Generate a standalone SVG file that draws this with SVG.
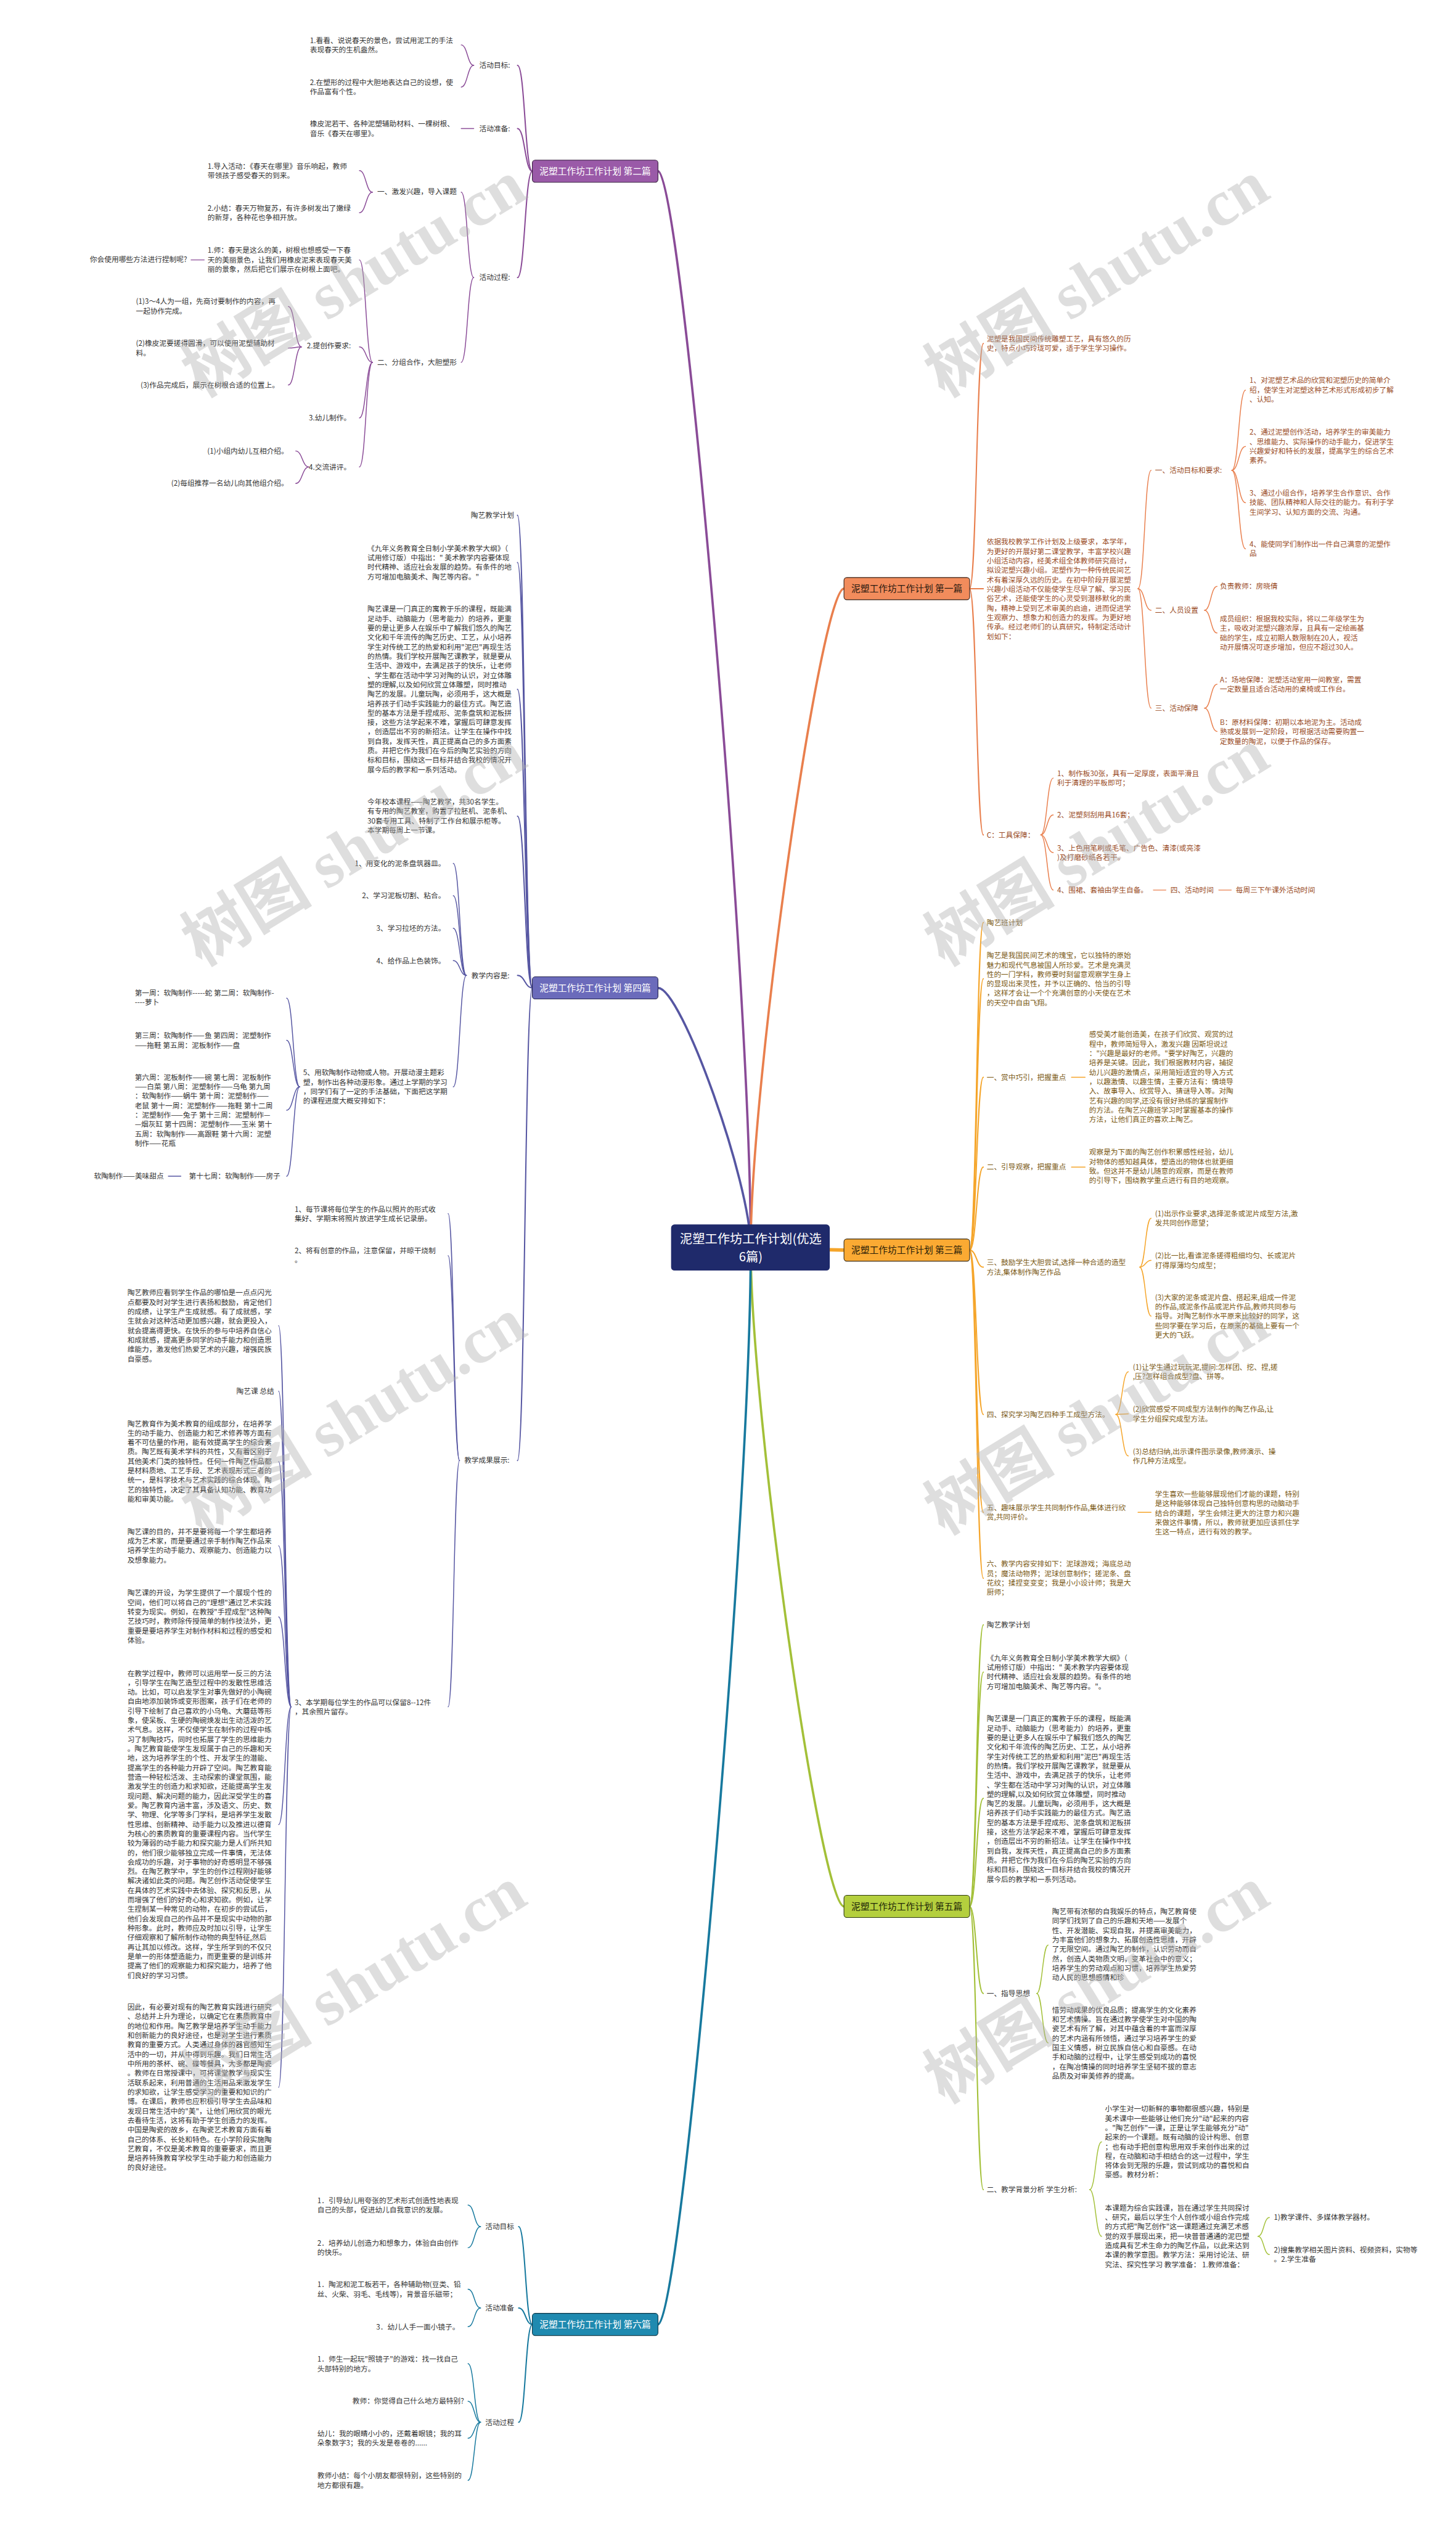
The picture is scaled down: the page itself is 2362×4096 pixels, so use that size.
<svg xmlns="http://www.w3.org/2000/svg" width="2362" height="4096" viewBox="0 0 2362 4096">
<style>
.t{font-family:"Noto Sans CJK SC","Noto Sans",sans-serif;font-size:12.7px;fill:#333}
.e{text-anchor:end}
.o{fill:#9a4b25}
.y{fill:#7a5812}
.bt{font-family:"Noto Sans CJK SC","Noto Sans",sans-serif;font-size:16px;text-anchor:middle}
.ln{fill:none;stroke-linecap:round}
.w1{stroke-width:2.2}
.w2{stroke-width:1.6}
.wm{font-family:"Liberation Serif","Noto Sans CJK SC",serif;font-weight:bold;font-size:115px;fill:#b0b0b0;fill-opacity:0.42}
.c2{stroke:#8a4b97}.c4{stroke:#5656a2}.c6{stroke:#17799e}.c1{stroke:#e97f4d}.c3{stroke:#f5a52a}.c5{stroke:#a3c038}
</style>
<rect x="0" y="0" width="2362" height="4096" fill="#ffffff"/>
<g transform="scale(0.9226)">
<g id="connectors">
<path class="ln c2" stroke-width="4" d="M1320 2193C1320 1720 1198 301 1157 301"/>
<path class="ln c4" stroke-width="4" d="M1320 2193C1320 2079 1198 1737 1157 1737"/>
<path class="ln c1" stroke-width="4" d="M1320 2193C1320 1903 1443 1035 1484 1035"/>
<path class="ln c5" stroke-width="4" d="M1320 2193C1320 2483 1443 3352 1484 3352"/>
<path class="ln c6" stroke-width="4" d="M1320 2193C1320 2667 1198 4087 1157 4087"/>
<path class="ln c3" stroke-width="6" d="M1400 2196L1484 2198"/>
<g class="ln c2 w1">
<path d="M936 301C923 301 923 115 910 115"/><path d="M936 301C923 301 923 226 910 226"/><path d="M936 301C923 301 923 488 910 488"/>
</g>
<g class="ln c2 w2">
<path d="M833 115C822 115 822 79 811 79"/><path d="M833 115C822 115 822 153 811 153"/>
<path d="M833 226H811"/>
<path d="M833 488C822 488 822 338 811 338"/><path d="M833 488C822 488 822 637 811 637"/>
<path d="M655 338C643.5 338 643.5 300 632 300"/><path d="M655 338C643.5 338 643.5 374 632 374"/>
<path d="M655 637C643.5 637 643.5 457 632 457"/><path d="M655 637C643.5 637 643.5 610 632 610"/><path d="M655 637C643.5 637 643.5 735 632 735"/><path d="M655 637C643.5 637 643.5 821 632 821"/>
<path d="M359 457H336"/>
<path d="M530 610C518.5 610 518.5 539 507 539"/><path d="M530 610C518.5 610 518.5 612 507 612"/><path d="M530 610C518.5 610 518.5 677 507 677"/>
<path d="M543 821C531.5 821 531.5 793 520 793"/><path d="M543 821C531.5 821 531.5 850 520 850"/>
</g>
<g class="ln c4 w1">
<path d="M936 1737C923 1737 923 906 910 906"/><path d="M936 1737C923 1737 923 989 910 989"/><path d="M936 1737C923 1737 923 1212 910 1212"/><path d="M936 1737C923 1737 923 1435 910 1435"/><path d="M936 1737C923 1737 923 1715 910 1715"/><path d="M936 1737C923 1737 923 2568 910 2568"/>
</g>
<g class="ln c4 w2">
<path d="M820 1715C808.5 1715 808.5 1518 797 1518"/><path d="M820 1715C808.5 1715 808.5 1575 797 1575"/><path d="M820 1715C808.5 1715 808.5 1632 797 1632"/><path d="M820 1715C808.5 1715 808.5 1689 797 1689"/><path d="M820 1715C808.5 1715 808.5 1911 797 1911"/>
<path d="M527 1911C515.5 1911 515.5 1755 504 1755"/><path d="M527 1911C515.5 1911 515.5 1829 504 1829"/><path d="M527 1911C515.5 1911 515.5 1952 504 1952"/><path d="M527 1911C515.5 1911 515.5 2068 504 2068"/>
<path d="M318 2068H296"/>
<path d="M808 2568C798 2568 798 2134 788 2134"/><path d="M808 2568C798 2568 798 2208 788 2208"/><path d="M808 2568C798 2568 798 3001 788 3001"/>
<path d="M512 3001C501 3001 501 2331 490 2331"/><path d="M512 3001C501 3001 501 2446 490 2446"/><path d="M512 3001C501 3001 501 2570 490 2570"/><path d="M512 3001C501 3001 501 2718 490 2718"/><path d="M512 3001C501 3001 501 2843 490 2843"/><path d="M512 3001C501 3001 501 3208 490 3208"/><path d="M512 3001C501 3001 501 3670 490 3670"/>
</g>
<g class="ln c6 w1">
<path d="M936 4087C924 4087 924 3915 912 3915"/><path d="M936 4087C924 4087 924 4058 912 4058"/><path d="M936 4087C924 4087 924 4259 912 4259"/>
</g>
<g class="ln c6 w2">
<path d="M845 3915C834 3915 834 3877 823 3877"/><path d="M845 3915C834 3915 834 3952 823 3952"/>
<path d="M845 4058C834 4058 834 4025 823 4025"/><path d="M845 4058C834 4058 834 4091 823 4091"/>
<path d="M845 4259C834 4259 834 4156 823 4156"/><path d="M845 4259C834 4259 834 4222 823 4222"/><path d="M845 4259C834 4259 834 4287 823 4287"/><path d="M845 4259C834 4259 834 4361 823 4361"/>
</g>
<g class="ln c1 w1">
<path d="M1705 1035C1717 1035 1717 604 1729 604"/><path d="M1705 1035H1729"/><path d="M1705 1035C1717 1035 1717 1468 1729 1468"/>
</g>
<g class="ln c1 w2">
<path d="M2001 1035C2012.5 1035 2012.5 827 2024 827"/><path d="M2001 1035C2012.5 1035 2012.5 1073 2024 1073"/><path d="M2001 1035C2012.5 1035 2012.5 1245 2024 1245"/>
<path d="M2166 827C2178 827 2178 686 2190 686"/><path d="M2166 827C2178 827 2178 785 2190 785"/><path d="M2166 827C2178 827 2178 884 2190 884"/><path d="M2166 827C2178 827 2178 965 2190 965"/>
<path d="M2118 1073C2129 1073 2129 1031 2140 1031"/><path d="M2118 1073C2129 1073 2129 1113 2140 1113"/>
<path d="M2118 1245C2129 1245 2129 1203 2140 1203"/><path d="M2118 1245C2129 1245 2129 1286 2140 1286"/>
<path d="M1830 1468C1841 1468 1841 1368 1852 1368"/><path d="M1830 1468C1841 1468 1841 1433 1852 1433"/><path d="M1830 1468C1841 1468 1841 1499 1852 1499"/><path d="M1830 1468C1841 1468 1841 1565 1852 1565"/>
<path d="M2028 1565H2050"/><path d="M2143 1565H2165"/>
</g>
<g class="ln c3 w1">
<path d="M1705 2198C1717 2198 1717 1622 1729 1622"/><path d="M1705 2198C1717 2198 1717 1721 1729 1721"/><path d="M1705 2198C1717 2198 1717 1894 1729 1894"/><path d="M1705 2198C1717 2198 1717 2052 1729 2052"/><path d="M1705 2198C1717 2198 1717 2228 1729 2228"/><path d="M1705 2198C1717 2198 1717 2487 1729 2487"/><path d="M1705 2198C1717 2198 1717 2659 1729 2659"/><path d="M1705 2198C1717 2198 1717 2775 1729 2775"/>
</g>
<g class="ln c3 w2">
<path d="M1884 1894H1908"/><path d="M1884 2052H1908"/>
<path d="M2004 2228C2014 2228 2014 2142 2024 2142"/><path d="M2004 2228C2014 2228 2014 2216 2024 2216"/><path d="M2004 2228C2014 2228 2014 2314 2024 2314"/>
<path d="M1962 2487C1973 2487 1973 2412 1984 2412"/><path d="M1962 2487C1973 2487 1973 2486 1984 2486"/><path d="M1962 2487C1973 2487 1973 2560 1984 2560"/>
<path d="M2001 2659H2024"/>
</g>
<g class="ln c5 w1">
<path d="M1705 3352C1717 3352 1717 2857 1729 2857"/><path d="M1705 3352C1717 3352 1717 2940 1729 2940"/><path d="M1705 3352C1717 3352 1717 3162 1729 3162"/><path d="M1705 3352C1717 3352 1717 3505 1729 3505"/><path d="M1705 3352C1717 3352 1717 3850 1729 3850"/>
</g>
<g class="ln c5 w2">
<path d="M1823 3505C1833 3505 1833 3420 1843 3420"/><path d="M1823 3505C1833 3505 1833 3592 1843 3592"/>
<path d="M1916 3850C1926.5 3850 1926.5 3766 1937 3766"/><path d="M1916 3850C1926.5 3850 1926.5 3932 1937 3932"/>
<path d="M2212 3932C2222 3932 2222 3899 2232 3899"/><path d="M2212 3932C2222 3932 2222 3964 2232 3964"/>
</g>
</g>

<g id="center">
<rect x="1180" y="2153" width="279" height="81" rx="6" fill="#1f2a6b"/>
<text class="bt" x="1320" y="2186" style="font-size:22px;fill:#ffffff">泥塑工作坊工作计划(优选<tspan x="1320" dy="32">6篇)</tspan></text>
</g>

<g id="branch2">
<rect x="936" y="281.5" width="221" height="39" rx="5" fill="#9a5aa8" stroke="#3a2340" stroke-width="1.2"/>
<text class="bt" x="1046.5" y="307" fill="#ffffff">泥塑工作坊工作计划 第二篇</text>
</g>
<g id="branch4">
<rect x="936" y="1717.5" width="221" height="39" rx="5" fill="#6b6bbb" stroke="#262650" stroke-width="1.2"/>
<text class="bt" x="1046.5" y="1743" fill="#ffffff">泥塑工作坊工作计划 第四篇</text>
</g>
<g id="branch6">
<rect x="936" y="4067.5" width="221" height="39" rx="5" fill="#1f8ab0" stroke="#0f3a4a" stroke-width="1.2"/>
<text class="bt" x="1046.5" y="4093" fill="#ffffff">泥塑工作坊工作计划 第六篇</text>
</g>
<g id="branch1">
<rect x="1484" y="1015.5" width="221" height="39" rx="5" fill="#f28c5c" stroke="#3a2015" stroke-width="1.2"/>
<text class="bt" x="1594.5" y="1041" fill="#2a1a10">泥塑工作坊工作计划 第一篇</text>
</g>
<g id="branch3">
<rect x="1484" y="2178.5" width="221" height="39" rx="5" fill="#fbaa33" stroke="#3a2a10" stroke-width="1.2"/>
<text class="bt" x="1594.5" y="2204" fill="#2a1e08">泥塑工作坊工作计划 第三篇</text>
</g>
<g id="branch5">
<rect x="1484" y="3332.5" width="221" height="39" rx="5" fill="#b4cf3e" stroke="#2e3a10" stroke-width="1.2"/>
<text class="bt" x="1594.5" y="3358" fill="#1e2608">泥塑工作坊工作计划 第五篇</text>
</g>

<g id="nodes-b2">
<g id="b2-n1"><text class="t e" x="897" y="119.6">活动目标:</text></g>
<g id="b2-n2"><text class="t" x="545" y="75.6">1.看看、说说春天的景色，尝试用泥工的手法<tspan x="545" dy="16.6">表现春天的生机盎然。</tspan></text></g>
<g id="b2-n3"><text class="t" x="545" y="149.6">2.在塑形的过程中大胆地表达自己的设想，使<tspan x="545" dy="16.6">作品富有个性。</tspan></text></g>
<g id="b2-n4"><text class="t e" x="897" y="230.6">活动准备:</text></g>
<g id="b2-n5"><text class="t" x="545" y="222.6">橡皮泥若干、各种泥塑辅助材料、一棵树根、<tspan x="545" dy="16.6">音乐《春天在哪里》。</tspan></text></g>
<g id="b2-n6"><text class="t e" x="897" y="492.6">活动过程:</text></g>
<g id="b2-n7"><text class="t e" x="803" y="341.6">一、激发兴趣，导入课题</text></g>
<g id="b2-n8"><text class="t" x="365" y="296.6">1.导入活动：《春天在哪里》音乐响起，教师<tspan x="365" dy="16.6">带领孩子感受春天的到来。</tspan></text></g>
<g id="b2-n9"><text class="t" x="365" y="370.6">2.小结：春天万物复苏，有许多树发出了嫩绿<tspan x="365" dy="16.6">的新芽，各种花也争相开放。</tspan></text></g>
<g id="b2-n10"><text class="t e" x="803" y="641.6">二、分组合作，大胆塑形</text></g>
<g id="b2-n11"><text class="t" x="365" y="444.6">1.师：春天是这么的美，树根也想感受一下春<tspan x="365" dy="16.6">天的美丽景色，让我们用橡皮泥来表现春天美</tspan><tspan x="365" dy="16.6">丽的景象，然后把它们展示在树根上面吧。</tspan></text></g>
<g id="b2-n12"><text class="t e" x="329" y="460.6">你会使用哪些方法进行捏制呢?</text></g>
<g id="b2-n13"><text class="t e" x="617" y="612.6">2.提创作要求:</text></g>
<g id="b2-n14"><text class="t" x="239" y="534.6">(1)3～4人为一组，先商讨要制作的内容，再<tspan x="239" dy="16.6">一起协作完成。</tspan></text></g>
<g id="b2-n15"><text class="t" x="239" y="608.6">(2)橡皮泥要搓得圆滑，可以使用泥塑辅助材<tspan x="239" dy="16.6">料。</tspan></text></g>
<g id="b2-n16"><text class="t e" x="491" y="681.6">(3)作品完成后，展示在树根合适的位置上。</text></g>
<g id="b2-n17"><text class="t e" x="617" y="739.6">3.幼儿制作。</text></g>
<g id="b2-n18"><text class="t e" x="617" y="825.6">4.交流讲评。</text></g>
<g id="b2-n19"><text class="t e" x="507" y="797.6">(1)小组内幼儿互相介绍。</text></g>
<g id="b2-n20"><text class="t e" x="507" y="854.6">(2)每组推荐一名幼儿向其他组介绍。</text></g>
</g>

<g id="nodes-b4">
<g id="b4-n1"><text class="t e" x="904" y="910.6">陶艺教学计划</text></g>
<g id="b4-n2"><text class="t" x="646" y="968.6">《九年义务教育全日制小学美术教学大纲》（<tspan x="646" dy="16.6">试用修订版）中指出：" 美术教学内容要体现</tspan><tspan x="646" dy="16.6">时代精神、适应社会发展的趋势。有条件的地</tspan><tspan x="646" dy="16.6">方可增加电脑美术、陶艺等内容。"</tspan></text></g>
<g id="b4-n3"><text class="t" x="646" y="1075.6">陶艺课是一门真正的寓教于乐的课程，既能满<tspan x="646" dy="16.6">足动手、动脑能力（思考能力）的培养，更重</tspan><tspan x="646" dy="16.6">要的是让更多人在娱乐中了解我们悠久的陶艺</tspan><tspan x="646" dy="16.6">文化和千年流传的陶艺历史、工艺，从小培养</tspan><tspan x="646" dy="16.6">学生对传统工艺的热爱和利用"泥巴"再现生活</tspan><tspan x="646" dy="16.6">的热情。我们学校开展陶艺课教学，就是要从</tspan><tspan x="646" dy="16.6">生活中、游戏中，去满足孩子的快乐，让老师</tspan><tspan x="646" dy="16.6">、学生都在活动中学习对陶的认识，对立体雕</tspan><tspan x="646" dy="16.6">塑的理解,以及如何欣赏立体雕塑，同时推动</tspan><tspan x="646" dy="16.6">陶艺的发展。儿童玩陶，必须用手，这大概是</tspan><tspan x="646" dy="16.6">培养孩子们动手实践能力的最佳方式。陶艺造</tspan><tspan x="646" dy="16.6">型的基本方法是手捏成形、泥条盘筑和泥板拼</tspan><tspan x="646" dy="16.6">接，这些方法学起来不难，掌握后可肆意发挥</tspan><tspan x="646" dy="16.6">，创造层出不穷的新招法。让学生在操作中找</tspan><tspan x="646" dy="16.6">到自我，发挥天性，真正提高自己的多方面素</tspan><tspan x="646" dy="16.6">质。并把它作为我们在今后的陶艺实验的方向</tspan><tspan x="646" dy="16.6">标和目标，围绕这一目标并结合我校的情况开</tspan><tspan x="646" dy="16.6">展今后的教学和一系列活动。</tspan></text></g>
<g id="b4-n4"><text class="t" x="646" y="1414.6">今年校本课程——陶艺教学，共30名学生。<tspan x="646" dy="16.6">有专用的陶艺教室，购置了拉胚机、泥条机、</tspan><tspan x="646" dy="16.6">30套专用工具、特制了工作台和展示柜等。</tspan><tspan x="646" dy="16.6">本学期每周上一节课。</tspan></text></g>
<g id="b4-n5"><text class="t e" x="896" y="1719.6">教学内容是:</text></g>
<g id="b4-n6"><text class="t e" x="783" y="1522.6">1、用变化的泥条盘筑器皿。</text></g>
<g id="b4-n7"><text class="t e" x="783" y="1579.6">2、学习泥板切割、粘合。</text></g>
<g id="b4-n8"><text class="t e" x="783" y="1636.6">3、学习拉坯的方法。</text></g>
<g id="b4-n9"><text class="t e" x="783" y="1693.6">4、给作品上色装饰。</text></g>
<g id="b4-n10"><text class="t" x="533" y="1890.6">5、用软陶制作动物或人物。开展动漫主题彩<tspan x="533" dy="16.6">塑，制作出各种动漫形象。通过上学期的学习</tspan><tspan x="533" dy="16.6">，同学们有了一定的手法基础，下面把这学期</tspan><tspan x="533" dy="16.6">的课程进度大概安排如下：</tspan></text></g>
<g id="b4-n11"><text class="t" x="237" y="1750.6">第一周：软陶制作-----蛇 第二周：软陶制作-<tspan x="237" dy="16.6">----萝卜</tspan></text></g>
<g id="b4-n12"><text class="t" x="237" y="1825.6">第三周：软陶制作——鱼 第四周：泥塑制作<tspan x="237" dy="16.6">——拖鞋 第五周：泥板制作——盘</tspan></text></g>
<g id="b4-n13"><text class="t" x="237" y="1898.6">第六周：泥板制作——碗 第七周：泥板制作<tspan x="237" dy="16.6">——白菜 第八周：泥塑制作——乌龟 第九周</tspan><tspan x="237" dy="16.6">：软陶制作——蜗牛 第十周：泥塑制作——</tspan><tspan x="237" dy="16.6">老鼠 第十一周：泥塑制作——拖鞋 第十二周</tspan><tspan x="237" dy="16.6">：泥塑制作——兔子 第十三周：泥塑制作—</tspan><tspan x="237" dy="16.6">—烟灰缸 第十四周：泥塑制作——玉米 第十</tspan><tspan x="237" dy="16.6">五周：软陶制作——高跟鞋 第十六周：泥塑</tspan><tspan x="237" dy="16.6">制作——花瓶</tspan></text></g>
<g id="b4-n14"><text class="t e" x="493" y="2072.6">第十七周：软陶制作——房子</text></g>
<g id="b4-n15"><text class="t e" x="288" y="2072.6">软陶制作——美味甜点</text></g>
<g id="b4-n16"><text class="t e" x="896" y="2572.6">教学成果展示:</text></g>
<g id="b4-n17"><text class="t" x="518" y="2130.6">1、每节课将每位学生的作品以照片的形式收<tspan x="518" dy="16.6">集好、学期末将照片放进学生成长记录册。</tspan></text></g>
<g id="b4-n18"><text class="t" x="518" y="2203.6">2、将有创意的作品，注意保留，并晾干烧制<tspan x="518" dy="16.6">。</tspan></text></g>
<g id="b4-n19"><text class="t" x="518" y="2997.6">3、本学期每位学生的作品可以保留8--12件<tspan x="518" dy="16.6">，其余照片留存。</tspan></text></g>
<g id="b4-n20"><text class="t" x="224" y="2277.6">陶艺教师应看到学生作品的哪怕是一点点闪光<tspan x="224" dy="16.6">点都要及时对学生进行表扬和鼓励，肯定他们</tspan><tspan x="224" dy="16.6">的成绩，让学生产生成就感。有了成就感，学</tspan><tspan x="224" dy="16.6">生就会对这种活动更加感兴趣，就会更投入，</tspan><tspan x="224" dy="16.6">就会提高得更快。在快乐的参与中培养自信心</tspan><tspan x="224" dy="16.6">和成就感，提高更多同学的动手能力和创造思</tspan><tspan x="224" dy="16.6">维能力，激发他们热爱艺术的兴趣，增强民族</tspan><tspan x="224" dy="16.6">自豪感。</tspan></text></g>
<g id="b4-n21"><text class="t e" x="482" y="2450.6">陶艺课 总结</text></g>
<g id="b4-n22"><text class="t" x="224" y="2507.6">陶艺教育作为美术教育的组成部分，在培养学<tspan x="224" dy="16.6">生的动手能力、创造能力和艺术修养等方面有</tspan><tspan x="224" dy="16.6">着不可估量的作用，能有效提高学生的综合素</tspan><tspan x="224" dy="16.6">质。陶艺既有美术学科的共性，又有着区别于</tspan><tspan x="224" dy="16.6">其他美术门类的独特性。任何一件陶艺作品都</tspan><tspan x="224" dy="16.6">是材料质地、工艺手段、艺术表现形式三者的</tspan><tspan x="224" dy="16.6">统一，是科学技术与艺术实践的综合体现。陶</tspan><tspan x="224" dy="16.6">艺的独特性，决定了其具备认知功能、教育功</tspan><tspan x="224" dy="16.6">能和审美功能。</tspan></text></g>
<g id="b4-n23"><text class="t" x="224" y="2697.6">陶艺课的目的，并不是要将每一个学生都培养<tspan x="224" dy="16.6">成为艺术家，而是要通过亲手制作陶艺作品来</tspan><tspan x="224" dy="16.6">培养学生的动手能力、观察能力、创造能力以</tspan><tspan x="224" dy="16.6">及想象能力。</tspan></text></g>
<g id="b4-n24"><text class="t" x="224" y="2805.6">陶艺课的开设，为学生提供了一个展现个性的<tspan x="224" dy="16.6">空间，他们可以将自己的"理想"通过艺术实践</tspan><tspan x="224" dy="16.6">转变为现实。例如，在教授"手捏成型"这种陶</tspan><tspan x="224" dy="16.6">艺技巧时，教师除传授简单的制作技法外，更</tspan><tspan x="224" dy="16.6">重要是要培养学生对制作材料和过程的感受和</tspan><tspan x="224" dy="16.6">体验。</tspan></text></g>
<g id="b4-n25"><text class="t" x="224" y="2946.6">在教学过程中，教师可以运用举一反三的方法<tspan x="224" dy="16.6">，引导学生在陶艺造型过程中的发散性思维活</tspan><tspan x="224" dy="16.6">动。比如，可以启发学生对事先做好的小陶碗</tspan><tspan x="224" dy="16.6">自由地添加装饰或变形图案，孩子们在老师的</tspan><tspan x="224" dy="16.6">引导下绘制了自己喜欢的小乌龟、大蘑菇等形</tspan><tspan x="224" dy="16.6">象，使呆板、生硬的陶碗焕发出生动活泼的艺</tspan><tspan x="224" dy="16.6">术气息。这样，不仅使学生在制作的过程中练</tspan><tspan x="224" dy="16.6">习了制陶技巧，同时也拓展了学生的思维能力</tspan><tspan x="224" dy="16.6">。陶艺教育能使学生发现属于自己的乐趣和天</tspan><tspan x="224" dy="16.6">地，这为培养学生的个性、开发学生的潜能、</tspan><tspan x="224" dy="16.6">提高学生的各种能力开辟了空间。陶艺教育能</tspan><tspan x="224" dy="16.6">营造一种轻松活泼、主动探索的课堂氛围，能</tspan><tspan x="224" dy="16.6">激发学生的创造力和求知欲，还能提高学生发</tspan><tspan x="224" dy="16.6">现问题、解决问题的能力，因此深受学生的喜</tspan><tspan x="224" dy="16.6">爱。陶艺教育内涵丰富，涉及语文、历史、数</tspan><tspan x="224" dy="16.6">学、物理、化学等多门学科，是培养学生发散</tspan><tspan x="224" dy="16.6">性思维、创新精神、动手能力以及推进以德育</tspan><tspan x="224" dy="16.6">为核心的素质教育的重要课程内容。当代学生</tspan><tspan x="224" dy="16.6">较为薄弱的动手能力和探究能力是人们所共知</tspan><tspan x="224" dy="16.6">的，他们很少能够独立完成一件事情，无法体</tspan><tspan x="224" dy="16.6">会成功的乐趣，对于事物的好奇感明显不够强</tspan><tspan x="224" dy="16.6">烈。在陶艺教学中，学生的创作过程刚好能够</tspan><tspan x="224" dy="16.6">解决诸如此类的问题。陶艺创作活动促使学生</tspan><tspan x="224" dy="16.6">在具体的艺术实践中去体验、探究和反思，从</tspan><tspan x="224" dy="16.6">而增强了他们的好奇心和求知欲。例如，让学</tspan><tspan x="224" dy="16.6">生捏制某一种常见的动物，在初步的尝试后，</tspan><tspan x="224" dy="16.6">他们会发现自己的作品并不是现实中动物的那</tspan><tspan x="224" dy="16.6">种形象。此时，教师应及时加以引导，让学生</tspan><tspan x="224" dy="16.6">仔细观察和了解所制作动物的典型特征,然后</tspan><tspan x="224" dy="16.6">再让其加以修改。这样，学生所学到的不仅只</tspan><tspan x="224" dy="16.6">是单一的形体塑造能力，而更重要的是训练并</tspan><tspan x="224" dy="16.6">提高了他们的观察能力和探究能力，培养了他</tspan><tspan x="224" dy="16.6">们良好的学习习惯。</tspan></text></g>
<g id="b4-n26"><text class="t" x="224" y="3533.6">因此，有必要对现有的陶艺教育实践进行研究<tspan x="224" dy="16.6">、总结并上升为理论，以确定它在素质教育中</tspan><tspan x="224" dy="16.6">的地位和作用。陶艺教学是培养学生动手能力</tspan><tspan x="224" dy="16.6">和创新能力的良好途径，也是对学生进行素质</tspan><tspan x="224" dy="16.6">教育的重要方式。人类通过身体的器官感知生</tspan><tspan x="224" dy="16.6">活中的一切，并从中得到乐趣。我们日常生活</tspan><tspan x="224" dy="16.6">中所用的茶杯、碗、碟等餐具，大多都是陶瓷</tspan><tspan x="224" dy="16.6">。教师在日常授课中，可将课堂教学与现实生</tspan><tspan x="224" dy="16.6">活联系起来，利用普通的生活用品来激发学生</tspan><tspan x="224" dy="16.6">的求知欲，让学生感受学习的重要和知识的广</tspan><tspan x="224" dy="16.6">博。在课后，教师也应积极引导学生去品味和</tspan><tspan x="224" dy="16.6">发现日常生活中的"美"，让他们用欣赏的眼光</tspan><tspan x="224" dy="16.6">去看待生活，这将有助于学生创造力的发挥。</tspan><tspan x="224" dy="16.6">中国是陶瓷的故乡，在陶瓷艺术教育方面有着</tspan><tspan x="224" dy="16.6">自己的体系、长处和特色。在小学阶段实施陶</tspan><tspan x="224" dy="16.6">艺教育，不仅是美术教育的重要要求，而且更</tspan><tspan x="224" dy="16.6">是培养特殊教育学校学生动手能力和创造能力</tspan><tspan x="224" dy="16.6">的良好途径。</tspan></text></g>
</g>

<g id="nodes-b6">
<g id="b6-n1"><text class="t e" x="904" y="3919.6">活动目标</text></g>
<g id="b6-n2"><text class="t" x="558" y="3873.6">1．引导幼儿用夸张的艺术形式创造性地表现<tspan x="558" dy="16.6">自己的头部，促进幼儿自我意识的发展。</tspan></text></g>
<g id="b6-n3"><text class="t" x="558" y="3948.6">2．培养幼儿创造力和想象力，体验自由创作<tspan x="558" dy="16.6">的快乐。</tspan></text></g>
<g id="b6-n4"><text class="t e" x="904" y="4062.6">活动准备</text></g>
<g id="b6-n5"><text class="t" x="558" y="4021.6">1．陶泥和泥工板若干，各种辅助物(豆类、铅<tspan x="558" dy="16.6">丝、火柴、羽毛、毛线等)，背景音乐磁带；</tspan></text></g>
<g id="b6-n6"><text class="t e" x="808" y="4095.6">3．幼儿人手一面小镜子。</text></g>
<g id="b6-n7"><text class="t e" x="904" y="4263.6">活动过程</text></g>
<g id="b6-n8"><text class="t" x="558" y="4152.6">1．师生一起玩"照镜子"的游戏：找一找自己<tspan x="558" dy="16.6">头部特别的地方。</tspan></text></g>
<g id="b6-n9"><text class="t e" x="816" y="4226.6">教师：你觉得自己什么地方最特别?</text></g>
<g id="b6-n10"><text class="t" x="558" y="4283.6">幼儿：我的眼睛小小的，还戴着眼镜；我的耳<tspan x="558" dy="16.6">朵象数字3；我的头发是卷卷的......</tspan></text></g>
<g id="b6-n11"><text class="t" x="558" y="4357.6">教师小结：每个小朋友都很特别，这些特别的<tspan x="558" dy="16.6">地方都很有趣。</tspan></text></g>
</g>

<g id="nodes-b1">
<g id="b1-n1"><text class="t o" x="1735" y="600.6">泥塑是我国民间传统雕塑工艺，具有悠久的历<tspan x="1735" dy="16.6">史，特点小巧玲珑可爱，适于学生学习操作。</tspan></text></g>
<g id="b1-n2"><text class="t o" x="1735" y="957.6">依据我校教学工作计划及上级要求，本学年，<tspan x="1735" dy="16.6">为更好的开展好第二课堂教学，丰富学校兴趣</tspan><tspan x="1735" dy="16.6">小组活动内容，经美术组全体教师研究商讨，</tspan><tspan x="1735" dy="16.6">拟设泥塑兴趣小组。泥塑作为一种传统民间艺</tspan><tspan x="1735" dy="16.6">术有着深厚久远的历史。在初中阶段开展泥塑</tspan><tspan x="1735" dy="16.6">兴趣小组活动不仅能使学生尽早了解、学习民</tspan><tspan x="1735" dy="16.6">俗艺术，还能使学生的心灵受到潜移默化的熏</tspan><tspan x="1735" dy="16.6">陶，精神上受到艺术审美的启迪，进而促进学</tspan><tspan x="1735" dy="16.6">生观察力、想象力和创造力的发挥。为更好地</tspan><tspan x="1735" dy="16.6">传承。经过老师们的认真研究，特制定活动计</tspan><tspan x="1735" dy="16.6">划如下：</tspan></text></g>
<g id="b1-n3"><text class="t o" x="2031" y="831.6">一、活动目标和要求:</text></g>
<g id="b1-n4"><text class="t o" x="2197" y="673.6">1、对泥塑艺术品的欣赏和泥塑历史的简单介<tspan x="2197" dy="16.6">绍，使学生对泥塑这种艺术形式形成初步了解</tspan><tspan x="2197" dy="16.6">、认知。</tspan></text></g>
<g id="b1-n5"><text class="t o" x="2197" y="764.6">2、通过泥塑创作活动，培养学生的审美能力<tspan x="2197" dy="16.6">、思维能力、实际操作的动手能力，促进学生</tspan><tspan x="2197" dy="16.6">兴趣爱好和特长的发展，提高学生的综合艺术</tspan><tspan x="2197" dy="16.6">素养。</tspan></text></g>
<g id="b1-n6"><text class="t o" x="2197" y="871.6">3、通过小组合作，培养学生合作意识、合作<tspan x="2197" dy="16.6">技能、团队精神和人际交往的能力。有利于学</tspan><tspan x="2197" dy="16.6">生间学习、认知方面的交流、沟通。</tspan></text></g>
<g id="b1-n7"><text class="t o" x="2197" y="961.6">4、能使同学们制作出一件自己满意的泥塑作<tspan x="2197" dy="16.6">品</tspan></text></g>
<g id="b1-n8"><text class="t o" x="2031" y="1077.6">二、人员设置</text></g>
<g id="b1-n9"><text class="t o" x="2145" y="1035.6">负责教师：房晓倩</text></g>
<g id="b1-n10"><text class="t o" x="2145" y="1092.6">成员组织：根据我校实际，将以二年级学生为<tspan x="2145" dy="16.6">主，吸收对泥塑兴趣浓厚，且具有一定绘画基</tspan><tspan x="2145" dy="16.6">础的学生，成立初期人数限制在20人，视活</tspan><tspan x="2145" dy="16.6">动开展情况可逐步增加，但应不超过30人。</tspan></text></g>
<g id="b1-n11"><text class="t o" x="2031" y="1249.6">三、活动保障</text></g>
<g id="b1-n12"><text class="t o" x="2145" y="1199.6">A：场地保障：泥塑活动室用一间教室，需置<tspan x="2145" dy="16.6">一定数量且适合活动用的桌椅或工作台。</tspan></text></g>
<g id="b1-n13"><text class="t o" x="2145" y="1274.6">B：原材料保障：初期以本地泥为主。活动成<tspan x="2145" dy="16.6">熟或发展到一定阶段，可根据活动需要购置一</tspan><tspan x="2145" dy="16.6">定数量的陶泥，以便于作品的保存。</tspan></text></g>
<g id="b1-n14"><text class="t o" x="1735" y="1472.6">C：工具保障：</text></g>
<g id="b1-n15"><text class="t o" x="1859" y="1364.6">1、制作板30张，具有一定厚度，表面平滑且<tspan x="1859" dy="16.6">利于清理的平板即可；</tspan></text></g>
<g id="b1-n16"><text class="t o" x="1859" y="1437.6">2、泥塑刻刮用具16套；</text></g>
<g id="b1-n17"><text class="t o" x="1859" y="1495.6">3、上色用笔刷或毛笔、广告色、清漆(或亮漆<tspan x="1859" dy="16.6">)及打磨砂纸各若干。</tspan></text></g>
<g id="b1-n18"><text class="t o" x="1859" y="1569.6">4、围裙、套袖由学生自备。</text></g>
<g id="b1-n19"><text class="t o" x="2058" y="1569.6">四、活动时间</text></g>
<g id="b1-n20"><text class="t o" x="2173" y="1569.6">每周三下午课外活动时间</text></g>
</g>

<g id="nodes-b3">
<g id="b3-n1"><text class="t y" x="1735" y="1626.6">陶艺班计划</text></g>
<g id="b3-n2"><text class="t y" x="1735" y="1684.6">陶艺是我国民间艺术的瑰宝，它以独特的原始<tspan x="1735" dy="16.6">魅力和现代气息被国人所珍爱。艺术是充满灵</tspan><tspan x="1735" dy="16.6">性的一门学科，教师要时刻留意观察学生身上</tspan><tspan x="1735" dy="16.6">的显现出来灵性，并予以正确的、恰当的引导</tspan><tspan x="1735" dy="16.6">，这样才会让一个个充满创意的小天使在艺术</tspan><tspan x="1735" dy="16.6">的天空中自由飞翔。</tspan></text></g>
<g id="b3-n3"><text class="t y" x="1735" y="1898.6">一、赏中巧引，把握重点</text></g>
<g id="b3-n4"><text class="t y" x="1915" y="1823.6">感受美才能创造美，在孩子们欣赏、观赏的过<tspan x="1915" dy="16.6">程中，教师简短导入，激发兴趣 因斯坦说过</tspan><tspan x="1915" dy="16.6">："兴趣是最好的老师。"要学好陶艺，兴趣的</tspan><tspan x="1915" dy="16.6">培养是关键。因此，我们根据教材内容，捕捉</tspan><tspan x="1915" dy="16.6">幼儿兴趣的激情点，采用简短适宜的导入方式</tspan><tspan x="1915" dy="16.6">，以趣激情、以趣生情，主要方法有：情境导</tspan><tspan x="1915" dy="16.6">入、故事导入、欣赏导入、猜谜导入等。对陶</tspan><tspan x="1915" dy="16.6">艺有兴趣的同学,还没有很好熟练的掌握制作</tspan><tspan x="1915" dy="16.6">的方法。在陶艺兴趣班学习时掌握基本的操作</tspan><tspan x="1915" dy="16.6">方法，让他们真正的喜欢上陶艺。</tspan></text></g>
<g id="b3-n5"><text class="t y" x="1735" y="2056.6">二、引导观察，把握重点</text></g>
<g id="b3-n6"><text class="t y" x="1915" y="2030.6">观察是为下面的陶艺创作积累感性经验，幼儿<tspan x="1915" dy="16.6">对物体的感知越具体，塑造出的物体也就更细</tspan><tspan x="1915" dy="16.6">致。但这并不是幼儿随意的观察，而是在教师</tspan><tspan x="1915" dy="16.6">的引导下，围绕教学重点进行有目的地观察。</tspan></text></g>
<g id="b3-n7"><text class="t y" x="1735" y="2224.6">三、鼓励学生大胆尝试,选择一种合适的造型<tspan x="1735" dy="16.6">方法,集体制作陶艺作品</tspan></text></g>
<g id="b3-n8"><text class="t y" x="2031" y="2138.6">(1)出示作业要求,选择泥条或泥片成型方法,激<tspan x="2031" dy="16.6">发共同创作愿望；</tspan></text></g>
<g id="b3-n9"><text class="t y" x="2031" y="2212.6">(2)比一比,看谁泥条搓得粗细均匀、长或泥片<tspan x="2031" dy="16.6">打得厚薄均匀成型；</tspan></text></g>
<g id="b3-n10"><text class="t y" x="2031" y="2285.6">(3)大家的泥条或泥片盘、搭起来,组成一件泥<tspan x="2031" dy="16.6">的作品,或泥条作品或泥片作品,教师共同参与</tspan><tspan x="2031" dy="16.6">指导。对陶艺制作水平原来比较好的同学，这</tspan><tspan x="2031" dy="16.6">些同学要在学习后，在原来的基础上要有一个</tspan><tspan x="2031" dy="16.6">更大的飞跃。</tspan></text></g>
<g id="b3-n11"><text class="t y" x="1735" y="2491.6">四、探究学习陶艺四种手工成型方法。</text></g>
<g id="b3-n12"><text class="t y" x="1992" y="2408.6">(1)让学生通过玩玩泥,提问:怎样团、挖、捏,搓<tspan x="1992" dy="16.6">,压?怎样组合成型?盘、拼等。</tspan></text></g>
<g id="b3-n13"><text class="t y" x="1992" y="2482.6">(2)欣赏感受不同成型方法制作的陶艺作品,让<tspan x="1992" dy="16.6">学生分组探究成型方法。</tspan></text></g>
<g id="b3-n14"><text class="t y" x="1992" y="2556.6">(3)总结归纳,出示课件图示录像,教师演示、操<tspan x="1992" dy="16.6">作几种方法成型。</tspan></text></g>
<g id="b3-n15"><text class="t y" x="1735" y="2655.6">五、趣味展示学生共同制作作品,集体进行欣<tspan x="1735" dy="16.6">赏,共同评价。</tspan></text></g>
<g id="b3-n16"><text class="t y" x="2031" y="2631.6">学生喜欢一些能够展现他们才能的课题，特别<tspan x="2031" dy="16.6">是这种能够体现自己独特创意构思的动脑动手</tspan><tspan x="2031" dy="16.6">结合的课题，学生会倾注更大的注意力和兴趣</tspan><tspan x="2031" dy="16.6">来做这件事情，所以，教师就更加应该抓住学</tspan><tspan x="2031" dy="16.6">生这一特点，进行有效的教学。</tspan></text></g>
<g id="b3-n17"><text class="t y" x="1735" y="2754.6">六、教学内容安排如下：泥球游戏；海底总动<tspan x="1735" dy="16.6">员；魔法动物界；泥球创意制作；搓泥条、盘</tspan><tspan x="1735" dy="16.6">花纹；揉捏变变变；我是小小设计师；我是大</tspan><tspan x="1735" dy="16.6">厨师；</tspan></text></g>
</g>

<g id="nodes-b5">
<g id="b5-n1"><text class="t" x="1735" y="2861.6">陶艺教学计划</text></g>
<g id="b5-n2"><text class="t" x="1735" y="2919.6">《九年义务教育全日制小学美术教学大纲》（<tspan x="1735" dy="16.6">试用修订版）中指出：" 美术教学内容要体现</tspan><tspan x="1735" dy="16.6">时代精神、适应社会发展的趋势。有条件的地</tspan><tspan x="1735" dy="16.6">方可增加电脑美术、陶艺等内容。"。</tspan></text></g>
<g id="b5-n3"><text class="t" x="1735" y="3026.6">陶艺课是一门真正的寓教于乐的课程，既能满<tspan x="1735" dy="16.6">足动手、动脑能力（思考能力）的培养，更重</tspan><tspan x="1735" dy="16.6">要的是让更多人在娱乐中了解我们悠久的陶艺</tspan><tspan x="1735" dy="16.6">文化和千年流传的陶艺历史、工艺，从小培养</tspan><tspan x="1735" dy="16.6">学生对传统工艺的热爱和利用"泥巴"再现生活</tspan><tspan x="1735" dy="16.6">的热情。我们学校开展陶艺课教学，就是要从</tspan><tspan x="1735" dy="16.6">生活中、游戏中，去满足孩子的快乐，让老师</tspan><tspan x="1735" dy="16.6">、学生都在活动中学习对陶的认识，对立体雕</tspan><tspan x="1735" dy="16.6">塑的理解,以及如何欣赏立体雕塑，同时推动</tspan><tspan x="1735" dy="16.6">陶艺的发展。儿童玩陶，必须用手，这大概是</tspan><tspan x="1735" dy="16.6">培养孩子们动手实践能力的最佳方式。陶艺造</tspan><tspan x="1735" dy="16.6">型的基本方法是手捏成形、泥条盘筑和泥板拼</tspan><tspan x="1735" dy="16.6">接，这些方法学起来不难，掌握后可肆意发挥</tspan><tspan x="1735" dy="16.6">，创造层出不穷的新招法。让学生在操作中找</tspan><tspan x="1735" dy="16.6">到自我，发挥天性，真正提高自己的多方面素</tspan><tspan x="1735" dy="16.6">质。并把它作为我们在今后的陶艺实验的方向</tspan><tspan x="1735" dy="16.6">标和目标，围绕这一目标并结合我校的情况开</tspan><tspan x="1735" dy="16.6">展今后的教学和一系列活动。</tspan></text></g>
<g id="b5-n4"><text class="t" x="1735" y="3509.6">一、指导思想</text></g>
<g id="b5-n5"><text class="t" x="1850" y="3365.6">陶艺带有浓郁的自我娱乐的特点，陶艺教育使<tspan x="1850" dy="16.6">同学们找到了自己的乐趣和天地——发展个</tspan><tspan x="1850" dy="16.6">性、开发潜能、实现自我，并提高审美能力，</tspan><tspan x="1850" dy="16.6">为丰富他们的想象力、拓展创造性思维，开辟</tspan><tspan x="1850" dy="16.6">了无限空间。通过陶艺的制作，认识劳动而自</tspan><tspan x="1850" dy="16.6">然，创造人类物质文明，变革社会中的意义；</tspan><tspan x="1850" dy="16.6">培养学生的劳动观点和习惯，培养学生热爱劳</tspan><tspan x="1850" dy="16.6">动人民的思想感情和珍</tspan></text></g>
<g id="b5-n6"><text class="t" x="1850" y="3538.6">惜劳动成果的优良品质；提高学生的文化素养<tspan x="1850" dy="16.6">和艺术情操。旨在通过教学使学生对中国的陶</tspan><tspan x="1850" dy="16.6">瓷艺术有所了解，对其中蕴含着的丰富而深厚</tspan><tspan x="1850" dy="16.6">的艺术内涵有所领悟，通过学习培养学生的爱</tspan><tspan x="1850" dy="16.6">国主义情感，树立民族自信心和自豪感。在动</tspan><tspan x="1850" dy="16.6">手和动脑的过程中，让学生感受到成功的喜悦</tspan><tspan x="1850" dy="16.6">，在陶冶情操的同时培养学生坚韧不拔的意志</tspan><tspan x="1850" dy="16.6">品质及对审美修养的提高。</tspan></text></g>
<g id="b5-n7"><text class="t" x="1735" y="3854.6">二、教学背景分析 学生分析:</text></g>
<g id="b5-n8"><text class="t" x="1943" y="3712.6">小学生对一切新鲜的事物都很感兴趣，特别是<tspan x="1943" dy="16.6">美术课中一些能够让他们充分"动"起来的内容</tspan><tspan x="1943" dy="16.6">。"陶艺创作"一课，正是让学生能够充分"动"</tspan><tspan x="1943" dy="16.6">起来的一个课题。既有动脑的设计构思、创意</tspan><tspan x="1943" dy="16.6">；也有动手把创意构思用双手来创作出来的过</tspan><tspan x="1943" dy="16.6">程，在动脑和动手相结合的这一过程中，学生</tspan><tspan x="1943" dy="16.6">将体会到无限的乐趣，尝试到成功的喜悦和自</tspan><tspan x="1943" dy="16.6">豪感。教材分析：</tspan></text></g>
<g id="b5-n9"><text class="t" x="1943" y="3886.6">本课题为综合实践课，旨在通过学生共同探讨<tspan x="1943" dy="16.6">、研究，最后以学生个人创作或小组合作完成</tspan><tspan x="1943" dy="16.6">的方式把"陶艺创作"这一课题通过充满艺术感</tspan><tspan x="1943" dy="16.6">觉的双手展现出来，把一块普普通通的泥巴塑</tspan><tspan x="1943" dy="16.6">造成具有艺术生命力的陶艺作品，以此来达到</tspan><tspan x="1943" dy="16.6">本课的教学意图。教学方法：采用讨论法、研</tspan><tspan x="1943" dy="16.6">究法、探究性学习 教学准备：  1.教师准备：</tspan></text></g>
<g id="b5-n10"><text class="t" x="2240" y="3903.6">1)教学课件、多媒体教学器材。</text></g>
<g id="b5-n11"><text class="t" x="2240" y="3960.6">2)搜集教学相关图片资料、视频资料，实物等<tspan x="2240" dy="16.6">。2.学生准备</tspan></text></g>
</g>

<g id="watermark">
<text class="wm" transform="translate(354 700) rotate(-31.5)">树图 shutu.cn</text>
<text class="wm" transform="translate(354 1700) rotate(-31.5)">树图 shutu.cn</text>
<text class="wm" transform="translate(354 2700) rotate(-31.5)">树图 shutu.cn</text>
<text class="wm" transform="translate(354 3700) rotate(-31.5)">树图 shutu.cn</text>
<text class="wm" transform="translate(1660 700) rotate(-31.5)">树图 shutu.cn</text>
<text class="wm" transform="translate(1660 1700) rotate(-31.5)">树图 shutu.cn</text>
<text class="wm" transform="translate(1660 2700) rotate(-31.5)">树图 shutu.cn</text>
<text class="wm" transform="translate(1660 3700) rotate(-31.5)">树图 shutu.cn</text>
</g>
</g>
</svg>
